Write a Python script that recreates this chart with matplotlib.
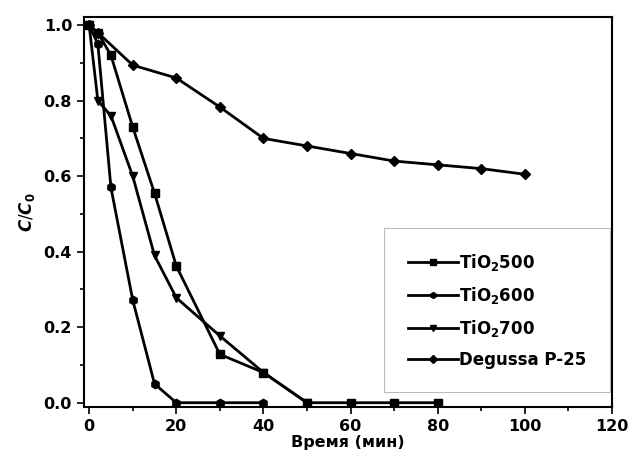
import matplotlib.pyplot as plt
from matplotlib.ticker import MultipleLocator

plt.rcParams['font.family'] = ['DejaVu Sans']
plt.rcParams['font.weight'] = 'bold'
plt.rcParams['mathtext.fontset'] = 'custom'
plt.rcParams['mathtext.rm'] = 'DejaVu Sans:bold'
plt.rcParams['mathtext.it'] = 'DejaVu Sans:bold:italic'

# photocatalytic degradation, C/C0 vs time
t_500 = [0, 2, 5, 10, 15, 20, 30, 40, 50, 60, 70, 80]
c_500 = [1.0, 0.98, 0.92, 0.73, 0.555, 0.362, 0.128, 0.08, 0.0, 0.0, 0.0, 0.0]

t_600 = [0, 2, 5, 10, 15, 20, 30, 40]
c_600 = [1.0, 0.95, 0.57, 0.272, 0.05, 0.0, 0.0, 0.0]

t_700 = [0, 2, 5, 10, 15, 20, 30, 40, 50]
c_700 = [1.0, 0.80, 0.76, 0.60, 0.39, 0.278, 0.177, 0.08, 0.0]

t_p25 = [0, 2, 10, 20, 30, 40, 50, 60, 70, 80, 90, 100]
c_p25 = [1.0, 0.98, 0.894, 0.86, 0.783, 0.70, 0.68, 0.66, 0.64, 0.63, 0.62, 0.605]

fig = plt.figure(figsize=(6.31, 4.65), dpi=100)
ax = fig.add_axes([0.133, 0.125, 0.837, 0.838])

kw = dict(color='black', lw=2, ms=6, mec='black', mfc='black')
ax.plot(t_500, c_500, marker='s', label=r'TiO$_2$500', **kw)
ax.plot(t_600, c_600, marker='h', label=r'TiO$_2$600', **kw)
ax.plot(t_700, c_700, marker='v', label=r'TiO$_2$700', **kw)
ax.plot(t_p25, c_p25, marker='D', label='Degussa P-25', **dict(kw, ms=5.5))

ax.set_xlim(-1.2, 120)
ax.set_ylim(-0.011, 1.021)
ax.xaxis.set_major_locator(MultipleLocator(20))
ax.xaxis.set_minor_locator(MultipleLocator(10))
ax.yaxis.set_major_locator(MultipleLocator(0.2))
ax.yaxis.set_minor_locator(MultipleLocator(0.1))
ax.yaxis.set_major_formatter(plt.FormatStrFormatter('%.1f'))
ax.tick_params(which='both', direction='out', top=False, right=False,
               labelsize=11.5, width=1.2)
ax.tick_params(which='major', length=5)
ax.tick_params(which='minor', length=3)
for s in ax.spines.values():
    s.set_linewidth(1.5)

ax.set_xlabel('Время (мин)', fontsize=11.5, fontweight='bold', labelpad=1)
ax.set_ylabel(r'$C$/$C_0$', fontsize=12, labelpad=5)

leg = ax.legend(loc='lower right', bbox_to_anchor=(0.996, 0.038), borderaxespad=0,
                fontsize=12, frameon=True, fancybox=False, edgecolor='#aaaaaa',
                handlelength=3.0, borderpad=1.4, labelspacing=0.72, handletextpad=0.1,
                markerscale=0.7)
leg.get_frame().set_linewidth(0.8)

fig.savefig('out.png', dpi=100)
